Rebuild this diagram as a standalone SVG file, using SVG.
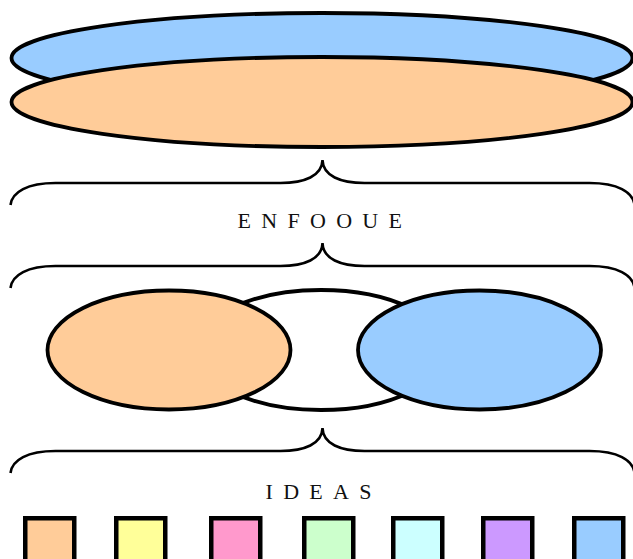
<svg xmlns="http://www.w3.org/2000/svg" width="633" height="559" viewBox="0 0 633 559">
  <style>
    .shape { stroke: #000; stroke-width: 3.8; }
    .brace { fill: none; stroke: #000; stroke-width: 2.6; stroke-linecap: butt; }
    .label { font-family: "Liberation Serif", "Times New Roman", serif; font-size: 22px; fill: #111; letter-spacing: 10.3px; }
    .tile { stroke: #000; stroke-width: 4.5; }
  </style>
  <defs>
    <!-- curly brace, tip at (0,0), arms 23px below -->
    <path id="brace" d="M-312,45 C-310.5,32 -295,23 -267,23 L-42,23 C-18,23 -0.5,16 0,0 C0.5,16 18,23 42,23 L267,23 C295,23 310.5,32 312,45"/>
  </defs>

  <!-- top stack of two discs -->
  <g id="disc-top">
    <ellipse class="shape" cx="322" cy="58" rx="310.5" ry="45" fill="#99CCFF"/>
  </g>
  <g id="disc-bottom">
    <ellipse class="shape" cx="322" cy="102" rx="310.5" ry="45" fill="#FFCC99"/>
  </g>

  <!-- braces -->
  <g id="braces">
    <use href="#brace" class="brace" x="322.5" y="160"/>
    <use href="#brace" class="brace" x="322.5" y="243"/>
    <use href="#brace" class="brace" x="322.5" y="428"/>
  </g>

  <g id="label-enfoque">
    <text class="label" x="237.5" y="228">ENFOOUE</text>
  </g>

  <!-- three overlapping ovals -->
  <g id="oval-middle">
    <ellipse class="shape" cx="321" cy="350" rx="125" ry="60" fill="#FFFFFF"/>
  </g>
  <g id="oval-left">
    <ellipse class="shape" cx="169" cy="350" rx="121.5" ry="59.5" fill="#FFCC99"/>
  </g>
  <g id="oval-right">
    <ellipse class="shape" cx="479.5" cy="350" rx="121.5" ry="59.5" fill="#99CCFF"/>
  </g>

  <g id="label-ideas">
    <text class="label" x="265.5" y="499">IDEAS</text>
  </g>

  <!-- row of colour tiles -->
  <g id="tile-1"><rect class="tile" x="25.25" y="518.25" width="49" height="60" fill="#FFCC99"/></g>
  <g id="tile-2"><rect class="tile" x="116.25" y="518.25" width="49" height="60" fill="#FFFF99"/></g>
  <g id="tile-3"><rect class="tile" x="211.25" y="518.25" width="49" height="60" fill="#FF99CC"/></g>
  <g id="tile-4"><rect class="tile" x="304.25" y="518.25" width="49" height="60" fill="#CCFFCC"/></g>
  <g id="tile-5"><rect class="tile" x="393.25" y="518.25" width="49" height="60" fill="#CCFFFF"/></g>
  <g id="tile-6"><rect class="tile" x="483.25" y="518.25" width="49" height="60" fill="#CC99FF"/></g>
  <g id="tile-7"><rect class="tile" x="574.25" y="518.25" width="49" height="60" fill="#99CCFF"/></g>
</svg>
